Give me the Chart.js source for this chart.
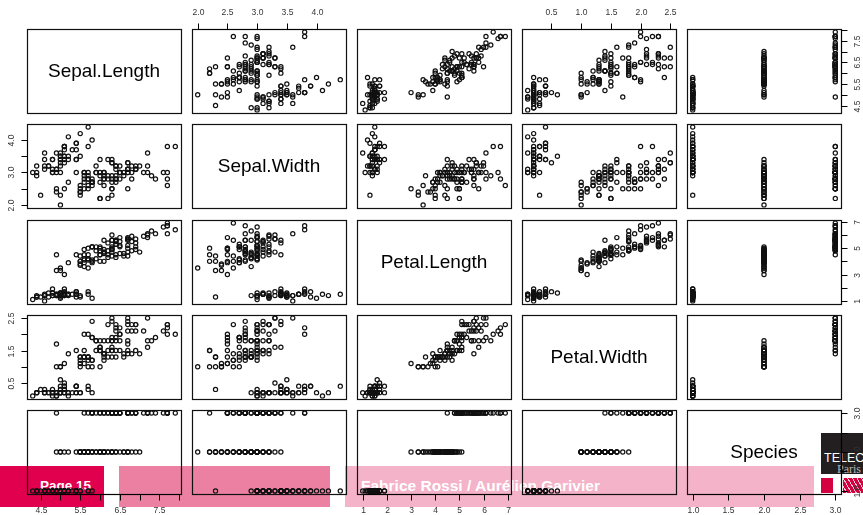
<!DOCTYPE html>
<html>
<head>
<meta charset="utf-8">
<script src="https://cdn.jsdelivr.net/npm/chart.js@4.4.1/dist/chart.umd.min.js"></script>
<style>
  html, body { margin: 0; padding: 0; background: #fff; }
  #page { position: relative; width: 863px; height: 515px; overflow: hidden; font-family: "Liberation Sans", Arial, sans-serif; }
  canvas { position: absolute; left: 0; top: 0; z-index: 2; }
  .blk { position: absolute; top: 466px; height: 41px; z-index: 1; }
  .ft { position: absolute; z-index: 1; color: #fff; font-weight: bold; white-space: nowrap; line-height: 1; }
</style>
</head>
<body>
<div id="page">
  <div class="blk" style="left:0;width:104px;background:#e0004d"></div>
  <div class="blk" style="left:119px;width:211px;background:#ec80a3"></div>
  <div class="blk" style="left:345px;width:469px;background:#f4b3c9"></div>
  <div class="ft" style="left:40px;top:479px;font-size:13.5px">Page 15</div>
  <div class="ft" style="left:361px;top:478px;font-size:15.5px">Fabrice Rossi / Aurélien Garivier</div>
  <div style="position:absolute;left:821px;top:433px;width:42px;height:41px;background:#231f20;z-index:1"></div>
  <div class="ft" style="left:824px;top:452px;font-size:12.5px;font-weight:normal">TELECOM</div>
  <div class="ft" style="left:837px;top:463px;font-size:12px;font-weight:normal;color:#b5b5b5;font-family:'Liberation Serif',serif">Paris</div>
  <div style="position:absolute;left:821px;top:478px;width:12px;height:15px;background:#d4003f;z-index:1"></div>
  <div style="position:absolute;left:843px;top:478px;width:20px;height:15px;z-index:1;background:repeating-linear-gradient(60deg,#d4003f 0 3px,#f3c4d2 3px 4px)"></div>
</div>
<script>
// iris data
const sepalLength = [
  5.1,4.9,4.7,4.6,5.0,5.4,4.6,5.0,4.4,4.9,5.4,4.8,4.8,4.3,5.8,5.7,5.4,5.1,5.7,5.1,5.4,5.1,4.6,5.1,4.8,5.0,5.0,5.2,5.2,4.7,4.8,5.4,5.2,5.5,4.9,5.0,5.5,4.9,4.4,5.1,5.0,4.5,4.4,5.0,5.1,4.8,5.1,4.6,5.3,5.0,
  7.0,6.4,6.9,5.5,6.5,5.7,6.3,4.9,6.6,5.2,5.0,5.9,6.0,6.1,5.6,6.7,5.6,5.8,6.2,5.6,5.9,6.1,6.3,6.1,6.4,6.6,6.8,6.7,6.0,5.7,5.5,5.5,5.8,6.0,5.4,6.0,6.7,6.3,5.6,5.5,5.5,6.1,5.8,5.0,5.6,5.7,5.7,6.2,5.1,5.7,
  6.3,5.8,7.1,6.3,6.5,7.6,4.9,7.3,6.7,7.2,6.5,6.4,6.8,5.7,5.8,6.4,6.5,7.7,7.7,6.0,6.9,5.6,7.7,6.3,6.7,7.2,6.2,6.1,6.4,7.2,7.4,7.9,6.4,6.3,6.1,7.7,6.3,6.4,6.0,6.9,6.7,6.9,5.8,6.8,6.7,6.7,6.3,6.5,6.2,5.9
];
const sepalWidth = [
  3.5,3.0,3.2,3.1,3.6,3.9,3.4,3.4,2.9,3.1,3.7,3.4,3.0,3.0,4.0,4.4,3.9,3.5,3.8,3.8,3.4,3.7,3.6,3.3,3.4,3.0,3.4,3.5,3.4,3.2,3.1,3.4,4.1,4.2,3.1,3.2,3.5,3.6,3.0,3.4,3.5,2.3,3.2,3.5,3.8,3.0,3.8,3.2,3.7,3.3,
  3.2,3.2,3.1,2.3,2.8,2.8,3.3,2.4,2.9,2.7,2.0,3.0,2.2,2.9,2.9,3.1,3.0,2.7,2.2,2.5,3.2,2.8,2.5,2.8,2.9,3.0,2.8,3.0,2.9,2.6,2.4,2.4,2.7,2.7,3.0,3.4,3.1,2.3,3.0,2.5,2.6,3.0,2.6,2.3,2.7,3.0,2.9,2.9,2.5,2.8,
  3.3,2.7,3.0,2.9,3.0,3.0,2.5,2.9,2.5,3.6,3.2,2.7,3.0,2.5,2.8,3.2,3.0,3.8,2.6,2.2,3.2,2.8,2.8,2.7,3.3,3.2,2.8,3.0,2.8,3.0,2.8,3.8,2.8,2.8,2.6,3.0,3.4,3.1,3.0,3.1,3.1,3.1,2.7,3.2,3.3,3.0,2.5,3.0,3.4,3.0
];
const petalLength = [
  1.4,1.4,1.3,1.5,1.4,1.7,1.4,1.5,1.4,1.5,1.5,1.6,1.4,1.1,1.2,1.5,1.3,1.4,1.7,1.5,1.7,1.5,1.0,1.7,1.9,1.6,1.6,1.5,1.4,1.6,1.6,1.5,1.5,1.4,1.5,1.2,1.3,1.4,1.3,1.5,1.3,1.3,1.3,1.6,1.9,1.4,1.6,1.4,1.5,1.4,
  4.7,4.5,4.9,4.0,4.6,4.5,4.7,3.3,4.6,3.9,3.5,4.2,4.0,4.7,3.6,4.4,4.5,4.1,4.5,3.9,4.8,4.0,4.9,4.7,4.3,4.4,4.8,5.0,4.5,3.5,3.8,3.7,3.9,5.1,4.5,4.5,4.7,4.4,4.1,4.0,4.4,4.6,4.0,3.3,4.2,4.2,4.2,4.3,3.0,4.1,
  6.0,5.1,5.9,5.6,5.8,6.6,4.5,6.3,5.8,6.1,5.1,5.3,5.5,5.0,5.1,5.3,5.5,6.7,6.9,5.0,5.7,4.9,6.7,4.9,5.7,6.0,4.8,4.9,5.6,5.8,6.1,6.4,5.6,5.1,5.6,6.1,5.6,5.5,4.8,5.4,5.6,5.1,5.1,5.9,5.7,5.2,5.0,5.2,5.4,5.1
];
const petalWidth = [
  0.2,0.2,0.2,0.2,0.2,0.4,0.3,0.2,0.2,0.1,0.2,0.2,0.1,0.1,0.2,0.4,0.4,0.3,0.3,0.3,0.2,0.4,0.2,0.5,0.2,0.2,0.4,0.2,0.2,0.2,0.2,0.4,0.1,0.2,0.2,0.2,0.2,0.1,0.2,0.2,0.3,0.3,0.2,0.6,0.4,0.3,0.2,0.2,0.2,0.2,
  1.4,1.5,1.5,1.3,1.5,1.3,1.6,1.0,1.3,1.4,1.0,1.5,1.0,1.4,1.3,1.4,1.5,1.0,1.5,1.1,1.8,1.3,1.5,1.2,1.3,1.4,1.4,1.7,1.5,1.0,1.1,1.0,1.2,1.6,1.5,1.6,1.5,1.3,1.3,1.3,1.2,1.4,1.2,1.0,1.3,1.2,1.3,1.3,1.1,1.3,
  2.5,1.9,2.1,1.8,2.2,2.1,1.7,1.8,1.8,2.5,2.0,1.9,2.1,2.0,2.4,2.3,1.8,2.2,2.3,1.5,2.3,2.0,2.0,1.8,2.1,1.8,1.8,1.8,2.1,1.6,1.9,2.0,2.2,1.5,1.4,2.3,2.4,1.8,1.8,2.1,2.4,2.3,1.9,2.3,2.5,2.3,1.9,2.0,2.3,1.8
];
// species as factor codes (1 = setosa, 2 = versicolor, 3 = virginica)
const species = [
  1,1,1,1,1,1,1,1,1,1,1,1,1,1,1,1,1,1,1,1,1,1,1,1,1,1,1,1,1,1,1,1,1,1,1,1,1,1,1,1,1,1,1,1,1,1,1,1,1,1,
  2,2,2,2,2,2,2,2,2,2,2,2,2,2,2,2,2,2,2,2,2,2,2,2,2,2,2,2,2,2,2,2,2,2,2,2,2,2,2,2,2,2,2,2,2,2,2,2,2,2,
  3,3,3,3,3,3,3,3,3,3,3,3,3,3,3,3,3,3,3,3,3,3,3,3,3,3,3,3,3,3,3,3,3,3,3,3,3,3,3,3,3,3,3,3,3,3,3,3,3,3
];

const varNames = ["Sepal.Length", "Sepal.Width", "Petal.Length", "Petal.Width", "Species"];
const varData = [sepalLength, sepalWidth, petalLength, petalWidth, species];

// tick marks and the labels R kept on horizontal / vertical axes
const ticksSL = [4.5, 5.0, 5.5, 6.0, 6.5, 7.0, 7.5, 8.0];
const ticksSW = [2.0, 2.5, 3.0, 3.5, 4.0];
const ticksPL = [1, 2, 3, 4, 5, 6, 7];
const ticksPW = [0.5, 1.0, 1.5, 2.0, 2.5];
const ticksSp = [1.0, 1.5, 2.0, 2.5, 3.0];
const hLabelsSL = ["4.5", "5.5", "6.5", "7.5"];
const hLabelsSW = ["2.0", "2.5", "3.0", "3.5", "4.0"];
const hLabelsPL = ["1", "2", "3", "4", "5", "6", "7"];
const hLabelsPW = ["0.5", "1.0", "1.5", "2.0", "2.5"];
const hLabelsSp = ["1.0", "1.5", "2.0", "2.5", "3.0"];
const vLabelsSL = ["4.5", "5.5", "6.5", "7.5"];
const vLabelsSW = ["2.0", "3.0", "4.0"];
const vLabelsPL = ["1", "3", "5", "7"];
const vLabelsPW = ["0.5", "1.5", "2.5"];
const vLabelsSp = ["1.0", "2.0", "3.0"];

const varTicks = [ticksSL, ticksSW, ticksPL, ticksPW, ticksSp];
const varHLabels = [hLabelsSL, hLabelsSW, hLabelsPL, hLabelsPW, hLabelsSp];
const varVLabels = [vLabelsSL, vLabelsSW, vLabelsPL, vLabelsPW, vLabelsSp];

// layout
const W = 863, H = 515;
const colLeft = [27, 192, 357, 522, 687];
const rowTop = [29, 124, 220, 315, 410];
const panelW = 154, panelH = 84;
const n = varNames.length;

// R extends each range by 4%
function rRange(arr) {
  const lo = Math.min(...arr), hi = Math.max(...arr), d = (hi - lo) * 0.04;
  return [lo - d, hi + d];
}
const ranges = varData.map(rRange);

const FONT = '"Liberation Sans", Arial, sans-serif';

function drawAxis(chart, ax) {
  const ctx = chart.ctx, a = chart.chartArea;
  const horiz = ax.side === "bottom" || ax.side === "top";
  const scale = horiz ? chart.scales.x : chart.scales.y;
  const px = v => Math.round(scale.getPixelForValue(v)) + 0.5;
  const tl = 6, off = 16;
  ctx.strokeStyle = "#000";
  ctx.lineWidth = 1;
  ctx.fillStyle = "#333";
  ctx.font = "8.5px " + FONT;
  ctx.textAlign = "center";
  ctx.textBaseline = "middle";
  const first = px(ax.ticks[0]), last = px(ax.ticks[ax.ticks.length - 1]);
  ctx.beginPath();
  if (horiz) {
    const y0 = ax.side === "bottom" ? Math.round(a.bottom) + 0.5 : Math.round(a.top) + 0.5;
    const dir = ax.side === "bottom" ? 1 : -1;
    ctx.moveTo(first, y0); ctx.lineTo(last, y0);
    ax.ticks.forEach(v => { ctx.moveTo(px(v), y0); ctx.lineTo(px(v), y0 + dir * tl); });
    ctx.stroke();
    ax.labels.forEach(s => ctx.fillText(s, px(parseFloat(s)), y0 + dir * (off + 0.5)));
  } else {
    const x0 = ax.side === "left" ? Math.round(a.left) + 0.5 : Math.round(a.right) + 0.5;
    const dir = ax.side === "left" ? -1 : 1;
    ctx.moveTo(x0, first); ctx.lineTo(x0, last);
    ax.ticks.forEach(v => { ctx.moveTo(x0, px(v)); ctx.lineTo(x0 + dir * tl, px(v)); });
    ctx.stroke();
    ax.labels.forEach(s => {
      ctx.save();
      ctx.translate(x0 + dir * off, px(parseFloat(s)));
      ctx.rotate(-Math.PI / 2);
      ctx.fillText(s, 0, 0);
      ctx.restore();
    });
  }
}

const pairsFrame = {
  id: "pairsFrame",
  afterDatasetsDraw(chart, args, opts) {
    const ctx = chart.ctx, a = chart.chartArea;
    ctx.save();
    ctx.strokeStyle = "#111";
    ctx.lineWidth = 1.2;
    ctx.strokeRect(Math.round(a.left) + 0.5, Math.round(a.top) + 0.5,
      Math.round(a.right - a.left), Math.round(a.bottom - a.top));
    if (opts.label) {
      ctx.fillStyle = "#000";
      ctx.font = "19px " + FONT;
      ctx.textAlign = "center";
      ctx.textBaseline = "middle";
      ctx.fillText(opts.label, (a.left + a.right) / 2, (a.top + a.bottom) / 2 + 1);
    }
    (opts.axes || []).forEach(ax => drawAxis(chart, ax));
    ctx.restore();
  }
};

const page = document.getElementById("page");

for (let i = 0; i < n; i++) {
  for (let j = 0; j < n; j++) {
    const canvas = document.createElement("canvas");
    canvas.width = W; canvas.height = H;
    canvas.style.width = W + "px"; canvas.style.height = H + "px";
    page.appendChild(canvas);

    const axes = [];
    if (i === 0 && j % 2 === 1) axes.push({ side: "top", ticks: varTicks[j], labels: varHLabels[j] });
    if (i === n - 1 && j % 2 === 0) axes.push({ side: "bottom", ticks: varTicks[j], labels: varHLabels[j] });
    if (j === 0 && i % 2 === 1) axes.push({ side: "left", ticks: varTicks[i], labels: varVLabels[i] });
    if (j === n - 1 && i % 2 === 0) axes.push({ side: "right", ticks: varTicks[i], labels: varVLabels[i] });

    const points = i === j ? [] : varData[j].map((x, k) => ({ x: x, y: varData[i][k] }));

    new Chart(canvas, {
      type: "scatter",
      data: {
        datasets: [{
          data: points,
          pointRadius: 2.1,
          pointBorderWidth: 1.2,
          pointBorderColor: "#111",
          pointBackgroundColor: "rgba(0,0,0,0)",
          pointStyle: "circle"
        }]
      },
      options: {
        responsive: false,
        animation: false,
        events: [],
        layout: {
          padding: {
            left: colLeft[j], top: rowTop[i],
            right: W - colLeft[j] - panelW, bottom: H - rowTop[i] - panelH
          }
        },
        scales: {
          x: { type: "linear", min: ranges[j][0], max: ranges[j][1], display: false },
          y: { type: "linear", min: ranges[i][0], max: ranges[i][1], display: false }
        },
        plugins: {
          legend: { display: false },
          tooltip: { enabled: false },
          pairsFrame: { label: i === j ? varNames[i] : null, axes: axes }
        }
      },
      plugins: [pairsFrame]
    });
  }
}
</script>
</body>
</html>
